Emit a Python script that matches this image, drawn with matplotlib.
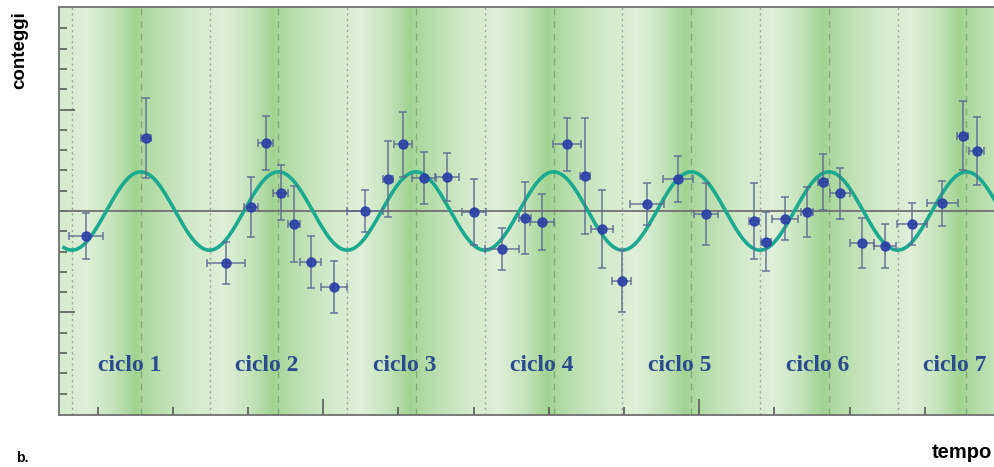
import numpy as np
import matplotlib.pyplot as plt
from matplotlib.colors import LinearSegmentedColormap
from matplotlib.ticker import FixedLocator

# measured points (time in tick units, counts in tick units around the mean)
t = [1.842, 2.644, 3.707, 4.036, 4.239, 4.435, 4.612, 4.834, 5.144, 5.556,
     5.858, 6.057, 6.344, 6.642, 7.005, 7.382, 7.684, 7.906, 8.238, 8.481,
     8.703, 8.969, 9.302, 9.722, 10.086, 10.731, 10.884, 11.141, 11.438, 11.650,
     11.872, 12.169, 12.471, 12.826, 13.233, 13.504, 13.690]
counts = [-1.23, 3.61, -2.55, 0.18, 3.36, 0.90, -0.64, -2.51, -3.73, 0.00,
          1.56, 3.29, 1.64, 1.69, -0.03, -1.87, -0.33, -0.56, 3.29, 1.72,
          -0.90, -3.45, 0.33, 1.58, -0.16, -0.49, -1.51, -0.39, -0.03, 1.44,
          0.87, -1.56, -1.71, -0.64, 0.38, 3.71, 2.96]
t_err = [0.226, 0.066, 0.249, 0.093, 0.10, 0.10, 0.08, 0.14, 0.173, 0.24,
         0.066, 0.12, 0.16, 0.16, 0.16, 0.226, 0.08, 0.16, 0.186, 0.066,
         0.146, 0.126, 0.226, 0.20, 0.16, 0.066, 0.066, 0.173, 0.08, 0.066,
         0.133, 0.16, 0.146, 0.20, 0.206, 0.073, 0.10]
c_err = [1.13, 1.97, 1.03, 1.48, 1.33, 1.35, 1.87, 1.28, 1.28, 1.03,
         1.87, 1.60, 1.28, 1.18, 1.63, 1.03, 1.77, 1.38, 1.31, 2.86,
         1.92, 1.53, 1.03, 1.13, 1.53, 1.87, 1.45, 1.06, 1.23, 1.38,
         1.26, 1.23, 1.08, 1.03, 1.11, 1.70, 1.67]

# fitted modulation
period = 1.830
t_first_min = 1.659
amp = 1.93
t_curve_start = 1.553

cycle_labels = ["ciclo 1", "ciclo 2", "ciclo 3", "ciclo 4", "ciclo 5", "ciclo 6", "ciclo 7"]

xlo, xhi = 1.487, 13.934
ylo, yhi = -10.05, 10.05

fig = plt.figure(figsize=(9.95, 4.67), dpi=100)
ax = fig.add_axes([59/995, 1 - 415/467, 1 - 59/995, 408/467])

#green shaded bands, darkest near each maximum
green = LinearSegmentedColormap.from_list("bands", ["#e3f1de", "#a0d391"])
xx = np.linspace(xlo, xhi, 1500)
ph = ((xx - t_first_min) / period) % 1
shade = np.interp(ph, [0, 0.1, 0.3, 0.46, 0.5, 0.7, 0.9, 1.0],
                  [0.15, 0.05, 0.45, 1.0, 0.85, 0.5, 0.2, 0.15])
ax.imshow(shade[None, :], extent=[xlo, xhi, ylo, yhi], aspect="auto",
          cmap=green, vmin=0, vmax=1, interpolation="bilinear", zorder=0)

for k in range(8):
    ax.axvline(t_first_min + k * period, color="#a0a4a0", ls=(0, (1.5, 2.5)), lw=1, zorder=1)
    ax.axvline(t_first_min + (k + 0.5) * period, color="#7fae7a", ls=(0, (5, 4)), lw=1, zorder=1)

ax.axhline(0, color="#707070", lw=1.3, zorder=2)

ts = np.linspace(t_curve_start, xhi, 800)
ax.plot(ts, -amp * np.cos(2 * np.pi * (ts - t_first_min) / period),
        color="#1ba98f", lw=2.6, zorder=3)

ax.errorbar(t, counts, xerr=t_err, yerr=c_err, fmt="o", ms=6.5,
            mfc="#2b3fa5", mec="#2b3fa5", alpha=0.9,
            ecolor="#5c6a92", elinewidth=1.1, capsize=3, capthick=1.1, zorder=4)

for i, lab in enumerate(cycle_labels):
    ax.text(t_first_min + (i + 0.417) * period, -7.62, lab, ha="center", va="center",
            family="Liberation Serif", fontweight="bold", fontsize=17, color="#2a4b8d")

ax.set_xlim(xlo, xhi)
ax.set_ylim(ylo, yhi)
ax.xaxis.set_major_locator(FixedLocator([5, 10]))
ax.xaxis.set_minor_locator(FixedLocator(range(2, 14)))
ax.yaxis.set_major_locator(FixedLocator([-5, 5]))
ax.yaxis.set_minor_locator(FixedLocator(range(-9, 10)))
ax.tick_params(which="both", direction="in", labelbottom=False, labelleft=False,
               color="#505050", width=1.1, top=False, right=False)
ax.tick_params(which="major", length=11.5)
ax.tick_params(which="minor", length=5.8)

ax.spines["right"].set_visible(False)
for s in ["left", "bottom", "top"]:
    ax.spines[s].set_color("#707070")
    ax.spines[s].set_linewidth(1.3)

fig.text(19.5/995, 1 - 50/467, "conteggi", rotation=90, ha="center", va="center",
         family="Liberation Sans", fontweight="bold", fontsize=13.5)
fig.text(992/995, 1 - 458/467, "tempo", ha="right", va="baseline",
         family="Liberation Sans", fontweight="bold", fontsize=14.5)
fig.text(16/995, 1 - 461.5/467, "b.", ha="left", va="baseline",
         family="Liberation Sans", fontweight="bold", fontsize=10)

fig.savefig("out.png", dpi=100)
